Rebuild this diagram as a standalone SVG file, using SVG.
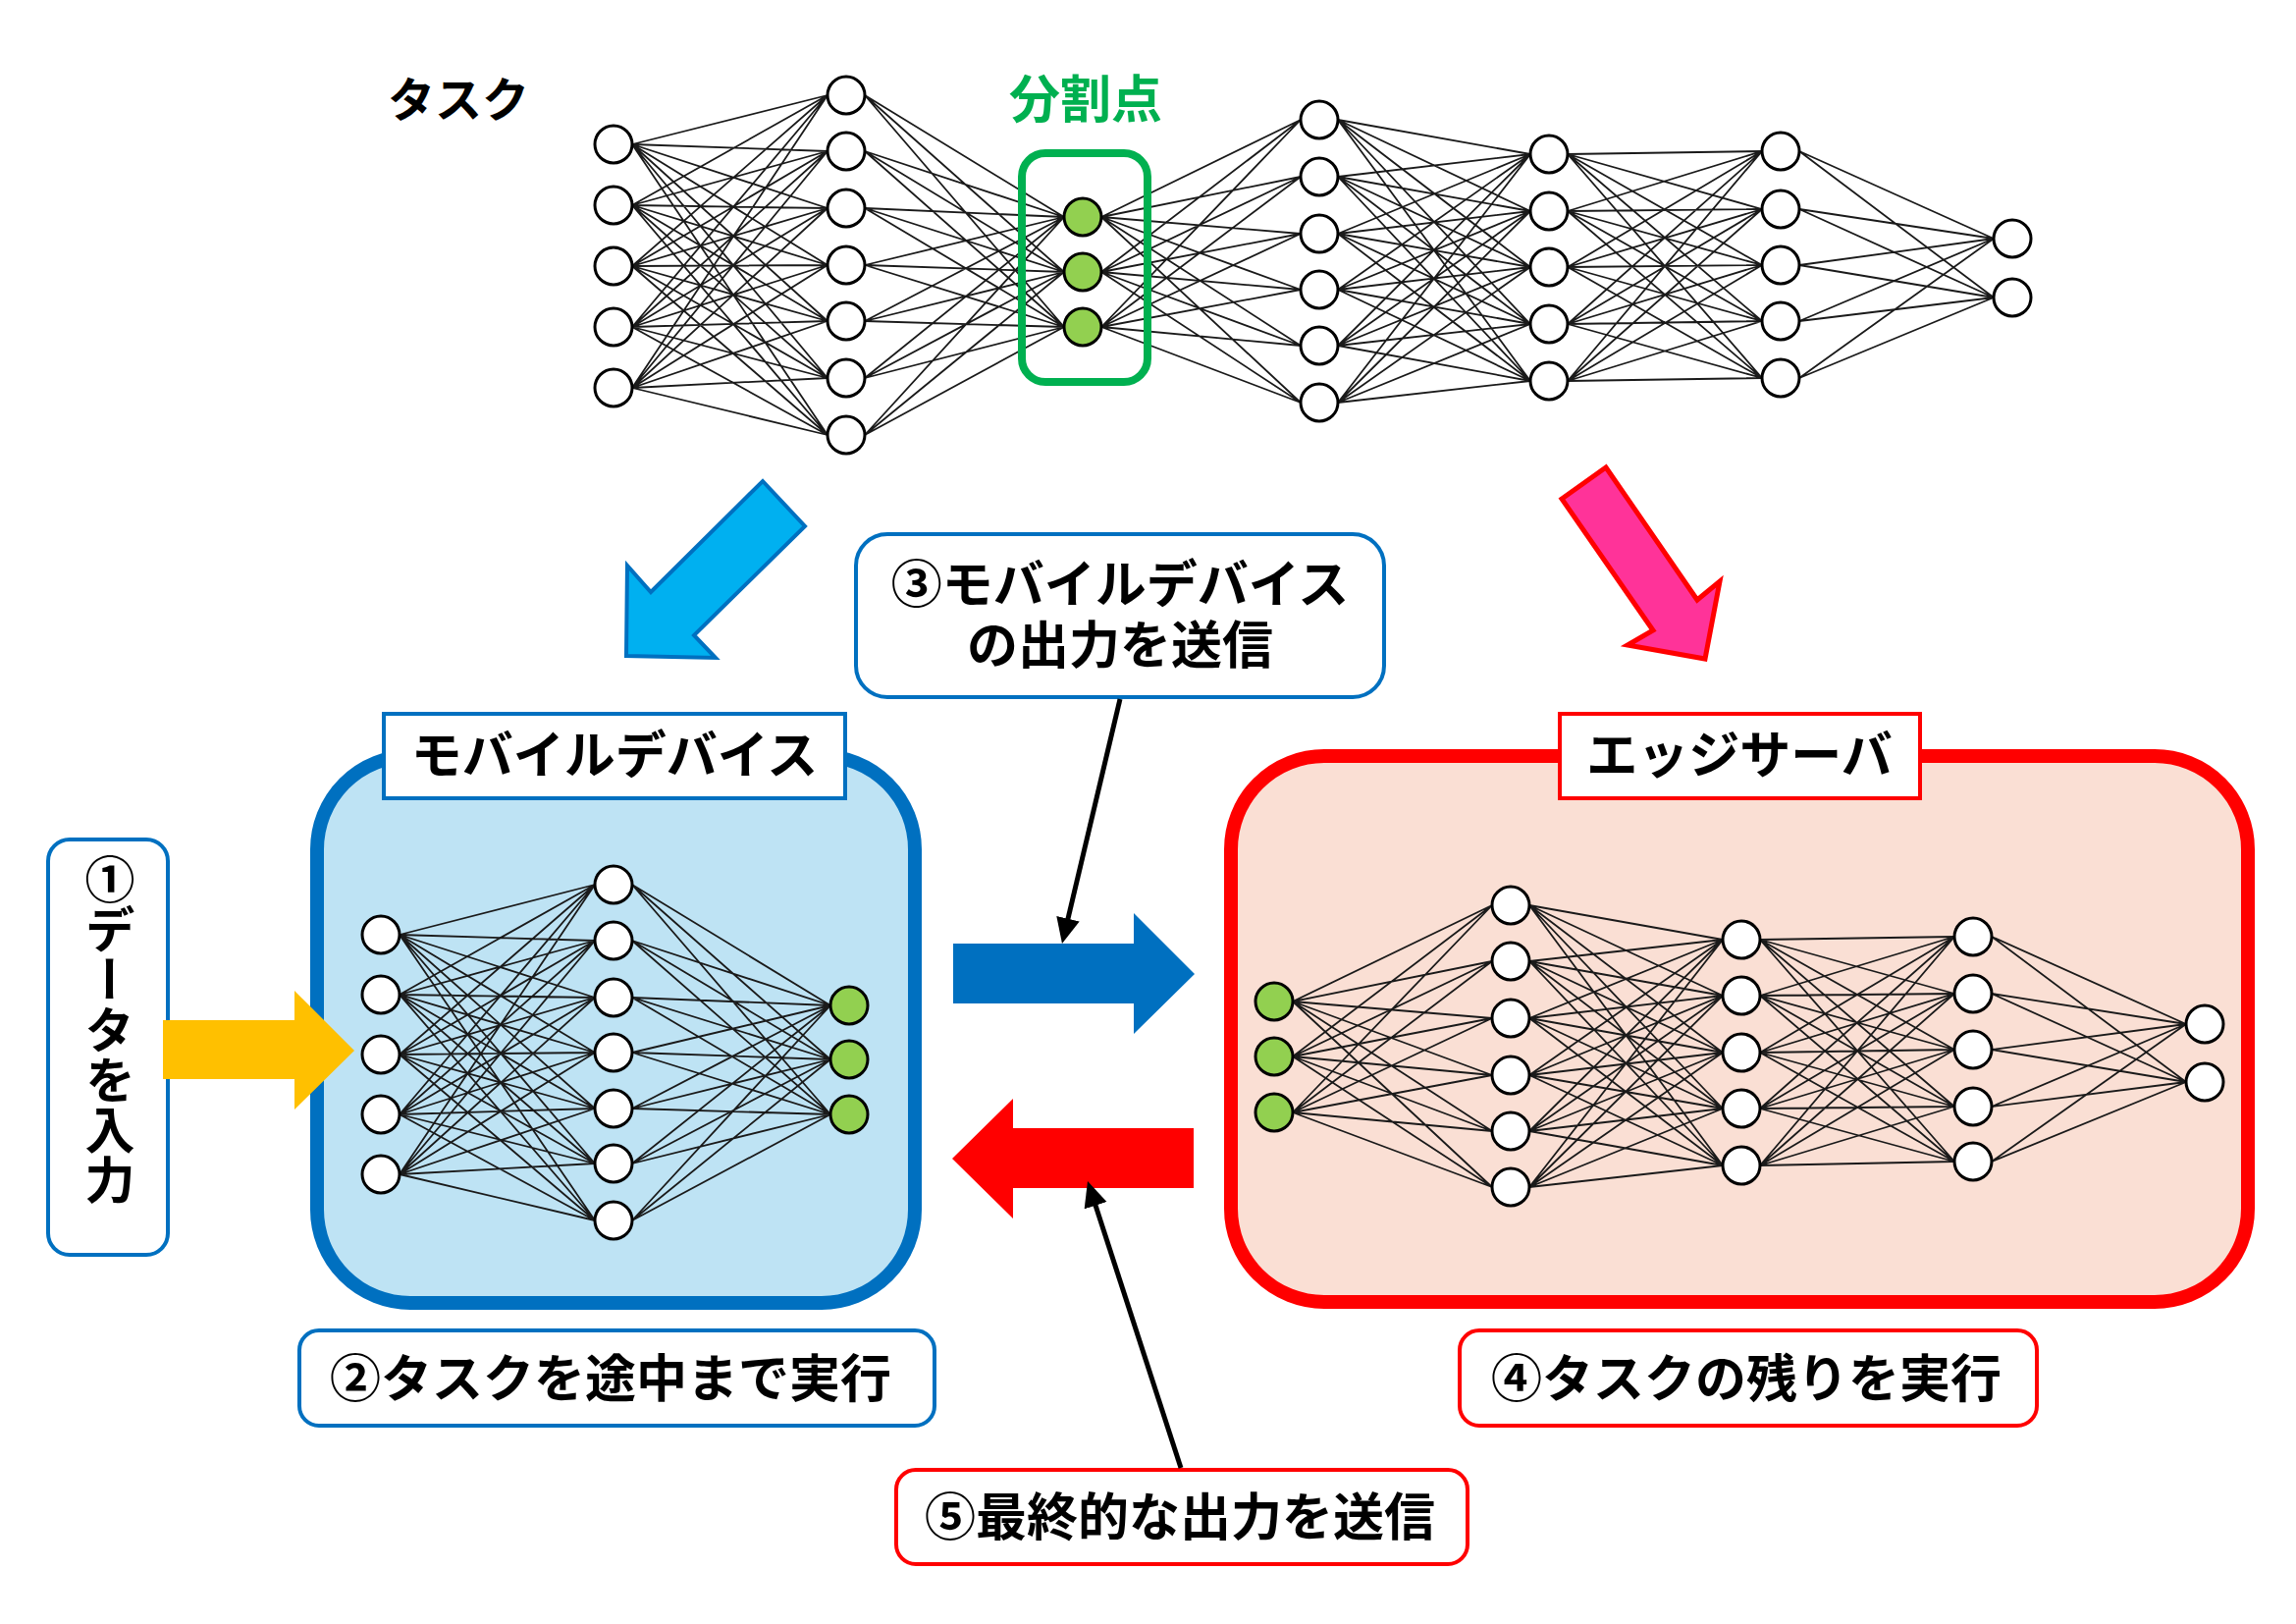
<svg xmlns="http://www.w3.org/2000/svg" width="2339" height="1654" viewBox="0 0 2339 1654">
<defs>
<style>
text{font-family:"Noto Sans CJK JP","Noto Sans",sans-serif;font-weight:700;fill:#000;text-anchor:middle;dominant-baseline:central}
.t{font-size:52px}
.n{fill:#fff;stroke:#000;stroke-width:3}
.g{fill:#92D050;stroke:#000;stroke-width:3}
.e{fill:none;stroke:#1a1a1a;stroke-width:1.8}
.lb{fill:#fff;stroke:#0070C0;stroke-width:4}
.lr{fill:#fff;stroke:#FF0000;stroke-width:4}
.ptr{fill:none;stroke:#000;stroke-width:5}
</style>
<marker id="ah" markerUnits="userSpaceOnUse" markerWidth="28" markerHeight="26" refX="6" refY="12" orient="auto"><path d="M0,0 L26,12 L0,24 z" fill="#000"/></marker>
</defs>
<rect width="2339" height="1654" fill="#fff"/>

<g id="task-label"><text x="467" y="98" style="font-size:48px">タスク</text></g>
<g id="split-label"><text x="1106" y="97" class="t" style="fill:#00B050">分割点</text></g>

<g id="task-network">
<path class="e" d="M644 147L843 97M644 147L843 154M644 147L843 212M644 147L843 270M644 147L843 327M644 147L843 385M644 147L843 443M644 209L843 97M644 209L843 154M644 209L843 212M644 209L843 270M644 209L843 327M644 209L843 385M644 209L843 443M644 271L843 97M644 271L843 154M644 271L843 212M644 271L843 270M644 271L843 327M644 271L843 385M644 271L843 443M644 333L843 97M644 333L843 154M644 333L843 212M644 333L843 270M644 333L843 327M644 333L843 385M644 333L843 443M644 395L843 97M644 395L843 154M644 395L843 212M644 395L843 270M644 395L843 327M644 395L843 385M644 395L843 443"/>
<path class="e" d="M881 97L1084 221M881 97L1084 277M881 97L1084 333M881 154L1084 221M881 154L1084 277M881 154L1084 333M881 212L1084 221M881 212L1084 277M881 212L1084 333M881 270L1084 221M881 270L1084 277M881 270L1084 333M881 327L1084 221M881 327L1084 277M881 327L1084 333M881 385L1084 221M881 385L1084 277M881 385L1084 333M881 443L1084 221M881 443L1084 277M881 443L1084 333"/>
<path class="e" d="M1122 221L1325 122M1122 221L1325 180M1122 221L1325 238M1122 221L1325 295M1122 221L1325 352M1122 221L1325 410M1122 277L1325 122M1122 277L1325 180M1122 277L1325 238M1122 277L1325 295M1122 277L1325 352M1122 277L1325 410M1122 333L1325 122M1122 333L1325 180M1122 333L1325 238M1122 333L1325 295M1122 333L1325 352M1122 333L1325 410"/>
<path class="e" d="M1363 122L1559 157M1363 122L1559 215M1363 122L1559 272M1363 122L1559 330M1363 122L1559 388M1363 180L1559 157M1363 180L1559 215M1363 180L1559 272M1363 180L1559 330M1363 180L1559 388M1363 238L1559 157M1363 238L1559 215M1363 238L1559 272M1363 238L1559 330M1363 238L1559 388M1363 295L1559 157M1363 295L1559 215M1363 295L1559 272M1363 295L1559 330M1363 295L1559 388M1363 352L1559 157M1363 352L1559 215M1363 352L1559 272M1363 352L1559 330M1363 352L1559 388M1363 410L1559 157M1363 410L1559 215M1363 410L1559 272M1363 410L1559 330M1363 410L1559 388"/>
<path class="e" d="M1597 157L1795 154M1597 157L1795 213M1597 157L1795 270M1597 157L1795 327M1597 157L1795 385M1597 215L1795 154M1597 215L1795 213M1597 215L1795 270M1597 215L1795 327M1597 215L1795 385M1597 272L1795 154M1597 272L1795 213M1597 272L1795 270M1597 272L1795 327M1597 272L1795 385M1597 330L1795 154M1597 330L1795 213M1597 330L1795 270M1597 330L1795 327M1597 330L1795 385M1597 388L1795 154M1597 388L1795 213M1597 388L1795 270M1597 388L1795 327M1597 388L1795 385"/>
<path class="e" d="M1833 154L2031 243M1833 154L2031 303M1833 213L2031 243M1833 213L2031 303M1833 270L2031 243M1833 270L2031 303M1833 327L2031 243M1833 327L2031 303M1833 385L2031 243M1833 385L2031 303"/>
<rect x="1041" y="156" width="128" height="233" rx="24" fill="none" stroke="#00B050" stroke-width="8"/>
<circle class="n" cx="625" cy="147" r="19"/><circle class="n" cx="625" cy="209" r="19"/><circle class="n" cx="625" cy="271" r="19"/><circle class="n" cx="625" cy="333" r="19"/><circle class="n" cx="625" cy="395" r="19"/>
<circle class="n" cx="862" cy="97" r="19"/><circle class="n" cx="862" cy="154" r="19"/><circle class="n" cx="862" cy="212" r="19"/><circle class="n" cx="862" cy="270" r="19"/><circle class="n" cx="862" cy="327" r="19"/><circle class="n" cx="862" cy="385" r="19"/><circle class="n" cx="862" cy="443" r="19"/>
<circle class="g" cx="1103" cy="221" r="19"/><circle class="g" cx="1103" cy="277" r="19"/><circle class="g" cx="1103" cy="333" r="19"/>
<circle class="n" cx="1344" cy="122" r="19"/><circle class="n" cx="1344" cy="180" r="19"/><circle class="n" cx="1344" cy="238" r="19"/><circle class="n" cx="1344" cy="295" r="19"/><circle class="n" cx="1344" cy="352" r="19"/><circle class="n" cx="1344" cy="410" r="19"/>
<circle class="n" cx="1578" cy="157" r="19"/><circle class="n" cx="1578" cy="215" r="19"/><circle class="n" cx="1578" cy="272" r="19"/><circle class="n" cx="1578" cy="330" r="19"/><circle class="n" cx="1578" cy="388" r="19"/>
<circle class="n" cx="1814" cy="154" r="19"/><circle class="n" cx="1814" cy="213" r="19"/><circle class="n" cx="1814" cy="270" r="19"/><circle class="n" cx="1814" cy="327" r="19"/><circle class="n" cx="1814" cy="385" r="19"/>
<circle class="n" cx="2050" cy="243" r="19"/><circle class="n" cx="2050" cy="303" r="19"/>
</g>

<g id="mobile-device">
<rect x="323" y="770" width="609" height="557" rx="95" fill="#BEE3F4" stroke="#0070C0" stroke-width="14"/>
<path class="e" d="M407 952L606 901M407 952L606 958M407 952L606 1016M407 952L606 1072M407 952L606 1129M407 952L606 1185M407 952L606 1243M407 1013L606 901M407 1013L606 958M407 1013L606 1016M407 1013L606 1072M407 1013L606 1129M407 1013L606 1185M407 1013L606 1243M407 1074L606 901M407 1074L606 958M407 1074L606 1016M407 1074L606 1072M407 1074L606 1129M407 1074L606 1185M407 1074L606 1243M407 1135L606 901M407 1135L606 958M407 1135L606 1016M407 1135L606 1072M407 1135L606 1129M407 1135L606 1185M407 1135L606 1243M407 1196L606 901M407 1196L606 958M407 1196L606 1016M407 1196L606 1072M407 1196L606 1129M407 1196L606 1185M407 1196L606 1243"/>
<path class="e" d="M644 901L846 1024M644 901L846 1079M644 901L846 1135M644 958L846 1024M644 958L846 1079M644 958L846 1135M644 1016L846 1024M644 1016L846 1079M644 1016L846 1135M644 1072L846 1024M644 1072L846 1079M644 1072L846 1135M644 1129L846 1024M644 1129L846 1079M644 1129L846 1135M644 1185L846 1024M644 1185L846 1079M644 1185L846 1135M644 1243L846 1024M644 1243L846 1079M644 1243L846 1135"/>
<circle class="n" cx="388" cy="952" r="19"/><circle class="n" cx="388" cy="1013" r="19"/><circle class="n" cx="388" cy="1074" r="19"/><circle class="n" cx="388" cy="1135" r="19"/><circle class="n" cx="388" cy="1196" r="19"/>
<circle class="n" cx="625" cy="901" r="19"/><circle class="n" cx="625" cy="958" r="19"/><circle class="n" cx="625" cy="1016" r="19"/><circle class="n" cx="625" cy="1072" r="19"/><circle class="n" cx="625" cy="1129" r="19"/><circle class="n" cx="625" cy="1185" r="19"/><circle class="n" cx="625" cy="1243" r="19"/>
<circle class="g" cx="865" cy="1024" r="19"/><circle class="g" cx="865" cy="1079" r="19"/><circle class="g" cx="865" cy="1135" r="19"/>
<rect class="lb" x="391" y="727" width="470" height="86"/>
<text x="626" y="765" class="t">モバイルデバイス</text>
</g>

<g id="edge-server">
<rect x="1254" y="770" width="1036" height="556" rx="95" fill="#FADFD4" stroke="#FF0000" stroke-width="14"/>
<path class="e" d="M1317 1020L1520 922M1317 1020L1520 979M1317 1020L1520 1037M1317 1020L1520 1095M1317 1020L1520 1152M1317 1020L1520 1209M1317 1076L1520 922M1317 1076L1520 979M1317 1076L1520 1037M1317 1076L1520 1095M1317 1076L1520 1152M1317 1076L1520 1209M1317 1133L1520 922M1317 1133L1520 979M1317 1133L1520 1037M1317 1133L1520 1095M1317 1133L1520 1152M1317 1133L1520 1209"/>
<path class="e" d="M1558 922L1755 957M1558 922L1755 1014M1558 922L1755 1072M1558 922L1755 1129M1558 922L1755 1187M1558 979L1755 957M1558 979L1755 1014M1558 979L1755 1072M1558 979L1755 1129M1558 979L1755 1187M1558 1037L1755 957M1558 1037L1755 1014M1558 1037L1755 1072M1558 1037L1755 1129M1558 1037L1755 1187M1558 1095L1755 957M1558 1095L1755 1014M1558 1095L1755 1072M1558 1095L1755 1129M1558 1095L1755 1187M1558 1152L1755 957M1558 1152L1755 1014M1558 1152L1755 1072M1558 1152L1755 1129M1558 1152L1755 1187M1558 1209L1755 957M1558 1209L1755 1014M1558 1209L1755 1072M1558 1209L1755 1129M1558 1209L1755 1187"/>
<path class="e" d="M1793 957L1991 954M1793 957L1991 1012M1793 957L1991 1069M1793 957L1991 1127M1793 957L1991 1183M1793 1014L1991 954M1793 1014L1991 1012M1793 1014L1991 1069M1793 1014L1991 1127M1793 1014L1991 1183M1793 1072L1991 954M1793 1072L1991 1012M1793 1072L1991 1069M1793 1072L1991 1127M1793 1072L1991 1183M1793 1129L1991 954M1793 1129L1991 1012M1793 1129L1991 1069M1793 1129L1991 1127M1793 1129L1991 1183M1793 1187L1991 954M1793 1187L1991 1012M1793 1187L1991 1069M1793 1187L1991 1127M1793 1187L1991 1183"/>
<path class="e" d="M2029 954L2227 1043M2029 954L2227 1102M2029 1012L2227 1043M2029 1012L2227 1102M2029 1069L2227 1043M2029 1069L2227 1102M2029 1127L2227 1043M2029 1127L2227 1102M2029 1183L2227 1043M2029 1183L2227 1102"/>
<circle class="g" cx="1298" cy="1020" r="19"/><circle class="g" cx="1298" cy="1076" r="19"/><circle class="g" cx="1298" cy="1133" r="19"/>
<circle class="n" cx="1539" cy="922" r="19"/><circle class="n" cx="1539" cy="979" r="19"/><circle class="n" cx="1539" cy="1037" r="19"/><circle class="n" cx="1539" cy="1095" r="19"/><circle class="n" cx="1539" cy="1152" r="19"/><circle class="n" cx="1539" cy="1209" r="19"/>
<circle class="n" cx="1774" cy="957" r="19"/><circle class="n" cx="1774" cy="1014" r="19"/><circle class="n" cx="1774" cy="1072" r="19"/><circle class="n" cx="1774" cy="1129" r="19"/><circle class="n" cx="1774" cy="1187" r="19"/>
<circle class="n" cx="2010" cy="954" r="19"/><circle class="n" cx="2010" cy="1012" r="19"/><circle class="n" cx="2010" cy="1069" r="19"/><circle class="n" cx="2010" cy="1127" r="19"/><circle class="n" cx="2010" cy="1183" r="19"/>
<circle class="n" cx="2246" cy="1043" r="19"/><circle class="n" cx="2246" cy="1102" r="19"/>
<rect class="lr" x="1589" y="727" width="367" height="86"/>
<text x="1772" y="765" class="t">エッジサーバ</text>
</g>

<g id="step1">
<rect class="lb" x="49" y="855" width="122" height="423" rx="22"/>
<text x="112" y="1049" class="t" style="font-size:51px;writing-mode:vertical-rl">①データを入力</text>
</g>
<g id="step2">
<rect class="lb" x="305" y="1355" width="647" height="97" rx="20"/>
<text x="622" y="1400" class="t">②タスクを途中まで実行</text>
</g>
<g id="step3">
<rect class="lb" x="872" y="544" width="538" height="166" rx="32"/>
<text class="t"><tspan x="1141" y="591">③モバイルデバイス</tspan><tspan x="1141" y="653">の出力を送信</tspan></text>
</g>
<g id="step4">
<rect class="lr" x="1487" y="1355" width="588" height="97" rx="20"/>
<text x="1779" y="1400" class="t">④タスクの残りを実行</text>
</g>
<g id="step5">
<rect class="lr" x="913" y="1497" width="582" height="96" rx="20"/>
<text x="1202" y="1541" class="t">⑤最終的な出力を送信</text>
</g>

<g id="connectors">
<polygon points="777,490 820,536 707,647 729,670 638,668 639,576 663,603" fill="#00B0F0" stroke="#0070C0" stroke-width="4"/>
<polygon points="1636,476 1591,508 1684,642 1658,657 1737,671 1752,592 1729,611" fill="#FF3399" stroke="#FF0000" stroke-width="5"/>
<polygon points="166,1039 300,1039 300,1009 361,1070 300,1130 300,1099 166,1099" fill="#FFC000"/>
<polygon points="971,961 1155,961 1155,930 1217,992 1155,1053 1155,1022 971,1022" fill="#0070C0"/>
<polygon points="1216,1149 1032,1149 1032,1119 970,1180 1032,1241 1032,1210 1216,1210" fill="#FF0000"/>
<path class="ptr" d="M1141 712L1086.6 941.5" marker-end="url(#ah)"/>
<path class="ptr" d="M1203 1495L1114.2 1222" marker-end="url(#ah)"/>
</g>
</svg>
